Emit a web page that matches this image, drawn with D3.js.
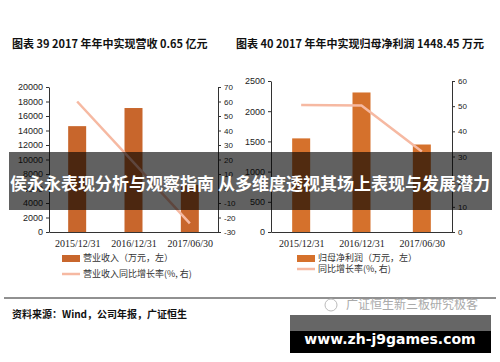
<!DOCTYPE html>
<html>
<head>
<meta charset="utf-8">
<script src="https://cdn.jsdelivr.net/npm/d3@7"></script>
<style>
  body { margin: 0; background: #fff; }
  svg { display: block; }
</style>
</head>
<body>
<div id="app"></div>
<script>
// 数据
const categories = ['2015/12/31', '2016/12/31', '2017/06/30']
const revenue = [14600, 17100, 6500] // 营业收入（万元）
const revenueGrowth = [60, 18, -24] // 营业收入同比增长率 %
const profit = [1550, 2310, 1448.45] // 归母净利润（万元）
const profitGrowth = [50.5, 50.3, 32] // 同比增长率 %
const leftTicksA = [0, 2000, 4000, 6000, 8000, 10000, 12000, 14000, 16000, 18000, 20000]
const rightTicksA = [-30, -20, -10, 0, 10, 20, 30, 40, 50, 60, 70]
const leftTicksB = [0, 500, 1000, 1500, 2000, 2500]
const rightTicksB = [0, 10, 20, 30, 40, 50, 60]

const W = 500, H = 362
const svg = d3.select('#app').append('svg').attr('width', W).attr('height', H)
const sans = 'Liberation Sans, Arial, sans-serif'
const cjk = 'Noto Sans CJK SC, sans-serif'

function drawChart(o) {
  const g = svg.append('g')
  const x = d3.scalePoint().domain(categories).range([o.x0, o.x1]).padding(0.5)
  const yL = d3.scaleLinear().domain(o.leftDomain).range([232, o.top])
  const yR = d3.scaleLinear().domain(o.rightDomain).range([232, o.top])

  // 柱
  g.selectAll('rect.bar')
    .data(o.bars)
    .join('rect')
    .attr('x', (d, i) => x(categories[i]) - 9)
    .attr('y', (d) => yL(d))
    .attr('width', 18)
    .attr('height', (d) => 232 - yL(d))
    .attr('fill', o.barColor)

  // 折线
  g.append('path')
    .datum(o.line)
    .attr('fill', 'none')
    .attr('stroke', '#f6b9a2')
    .attr('stroke-width', 2.5)
    .attr('d', d3.line().x((d, i) => x(categories[i])).y((d) => yR(d)))

  const fmt = (d) => String(d)
  // 左轴
  const la = g.append('g').attr('transform', `translate(${o.x0},0)`)
    .call(d3.axisLeft(yL).tickValues(o.leftTicks).tickSize(3).tickSizeOuter(0).tickFormat(fmt))
  // 右轴
  const ra = g.append('g').attr('transform', `translate(${o.x1},0)`)
    .call(d3.axisRight(yR).tickValues(o.rightTicks).tickSize(3).tickSizeOuter(0).tickFormat(fmt))
  ;[la, ra].forEach((a) => {
    a.select('.domain').attr('stroke', '#333')
    a.selectAll('line').attr('stroke', '#333')
    a.selectAll('text').attr('font-family', sans).attr('font-size', 9).attr('fill', '#222')
  })
  ra.selectAll('text').attr('font-size', 8)

  // 底轴
  const ba = g.append('g').attr('transform', 'translate(0,232)')
    .call(d3.axisBottom(x).tickSize(0))
  ba.select('.domain').attr('stroke', '#333')
  ba.selectAll('text').attr('font-family', 'Liberation Serif, serif').attr('font-size', 10)
    .attr('fill', '#222').attr('dy', '1.2em')

  // 图例
  g.append('rect').attr('x', o.legX).attr('y', 255).attr('width', 18).attr('height', 7).attr('fill', o.barColor)
  g.append('text').attr('x', o.legX + 21).attr('y', 261).text(o.legBar)
    .attr('font-family', cjk).attr('font-size', 9).attr('fill', '#333')
  g.append('line').attr('x1', o.legX).attr('x2', o.legX + 18).attr('y1', o.legLineY).attr('y2', o.legLineY)
    .attr('stroke', '#f6b9a2').attr('stroke-width', 2.5)
  g.append('text').attr('x', o.legX + 21).attr('y', o.legLineY + 3).text(o.legLine)
    .attr('font-family', cjk).attr('font-size', 9).attr('fill', '#333')
}

drawChart({
  x0: 49, x1: 218, top: 87,
  leftDomain: [0, 20000], rightDomain: [-30, 70],
  leftTicks: leftTicksA, rightTicks: rightTicksA,
  bars: revenue, line: revenueGrowth, barColor: '#c8662c',
  legX: 62, legLineY: 274,
  legBar: '营业收入（万元，左）', legLine: '营业收入同比增长率(%, 右)'
})

drawChart({
  x0: 271, x1: 452, top: 81,
  leftDomain: [0, 2500], rightDomain: [0, 60],
  leftTicks: leftTicksB, rightTicks: rightTicksB,
  bars: profit, line: profitGrowth, barColor: '#d5712c',
  legX: 297, legLineY: 269,
  legBar: '归母净利润（万元，左）', legLine: '同比增长率(%, 右)'
})

// 标题
svg.append('text').attr('x', 12).attr('y', 48).text('图表 39 2017 年年中实现营收 0.65 亿元')
  .attr('font-family', cjk).attr('font-weight', 'bold').attr('font-size', 11).attr('fill', '#111')
svg.append('text').attr('x', 236).attr('y', 48).text('图表 40  2017 年年中实现归母净利润 1448.45 万元')
  .attr('font-family', cjk).attr('font-weight', 'bold').attr('font-size', 11).attr('fill', '#111')

// 分隔线与来源
svg.append('line').attr('x1', 4).attr('x2', 496).attr('y1', 298).attr('y2', 298)
  .attr('stroke', '#222').attr('stroke-width', 1)
svg.append('text').attr('x', 12).attr('y', 318).text('资料来源：Wind，公司年报，广证恒生')
  .attr('font-family', cjk).attr('font-weight', 'bold').attr('font-size', 10).attr('fill', '#111')

// 水印
svg.append('circle').attr('cx', 331).attr('cy', 305).attr('r', 6).attr('fill', 'none').attr('stroke', '#bbb')
svg.append('text').attr('x', 346).attr('y', 309).text('广证恒生新三板研究极客')
  .attr('font-family', cjk).attr('font-size', 12).attr('fill', '#aaa')

// 遮罩横幅
svg.append('rect').attr('x', 9).attr('y', 152).attr('width', 483).attr('height', 58)
  .attr('fill', '#000').attr('opacity', 0.62)
svg.append('text').attr('x', 250).attr('y', 190).attr('text-anchor', 'middle')
  .text('侯永永表现分析与观察指南 从多维度透视其场上表现与发展潜力')
  .attr('font-family', cjk).attr('font-weight', 'bold').attr('font-size', 17).attr('fill', '#fff')

// 网址框
svg.append('rect').attr('x', 290).attr('y', 315).attr('width', 201).attr('height', 16).attr('fill', '#666')
svg.append('rect').attr('x', 290).attr('y', 331).attr('width', 201).attr('height', 22).attr('fill', '#000')
svg.append('text').attr('x', 390).attr('y', 344).attr('text-anchor', 'middle').text('www.zh-j9games.com')
  .attr('font-family', 'DejaVu Sans, sans-serif').attr('font-weight', 'bold').attr('font-size', 14).attr('fill', '#fff')
</script>
</body>
</html>
